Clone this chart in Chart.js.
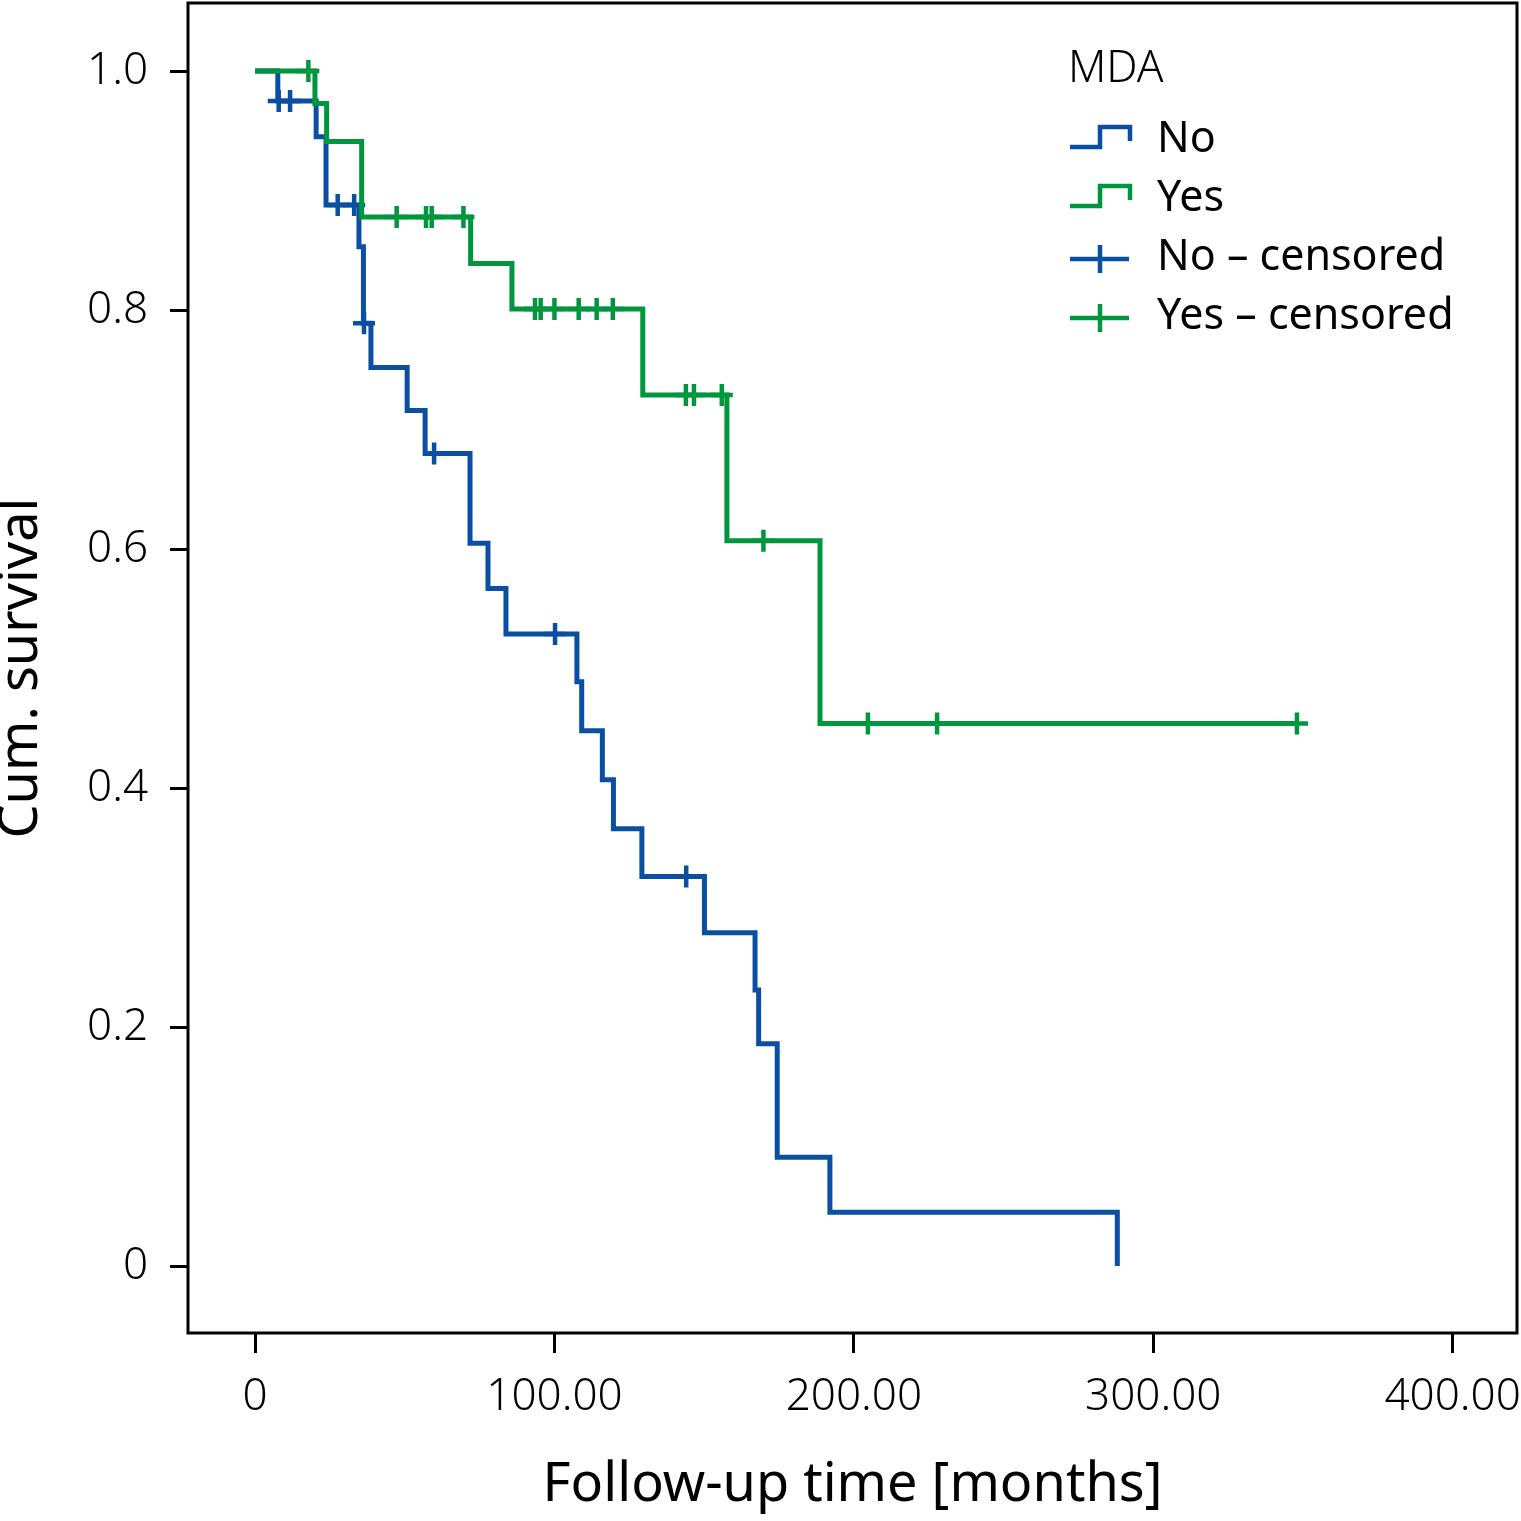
<!DOCTYPE html>
<html>
<head>
<meta charset="utf-8">
<title>Cum. survival by MDA</title>
<script src="https://cdn.jsdelivr.net/npm/chart.js@4.4.1/dist/chart.umd.min.js"></script>
<style>
  html, body { margin: 0; padding: 0; background: #fff; }
  #wrap { width: 1521px; height: 1521px; position: relative; }
</style>
</head>
<body>
<div id="wrap"><canvas id="km"></canvas></div>
<script>
// MDA = No : event times (months) and survival after each step
var noTimes = [0, 7.6, 20.4, 23.7, 34.7, 36.2, 38.7, 50.8, 56.8, 71.8, 77.8, 83.8, 107.5, 109.1, 116.0, 119.7, 129.2, 150.1, 167.0, 168.2, 174.4, 192.0, 288.0];
var noSurv  = [1.0, 0.975, 0.945, 0.888, 0.853, 0.789, 0.752, 0.716, 0.680, 0.605, 0.567, 0.529, 0.489, 0.448, 0.407, 0.366, 0.326, 0.279, 0.231, 0.186, 0.091, 0.045, 0];
var noCensored = [7.9, 11.7, 27.6, 33.1, 36.4, 59.8, 100.2, 144.0];

// MDA = Yes
var yesTimes = [0, 20.0, 23.9, 35.6, 72.0, 85.8, 129.5, 157.6, 188.7, 348.0];
var yesSurv  = [1.0, 0.973, 0.941, 0.878, 0.839, 0.801, 0.729, 0.607, 0.454, 0.454];
var yesCensored = [17.8, 47.3, 57.1, 59.0, 69.6, 93.5, 95.4, 100.0, 108.1, 114.1, 119.5, 143.9, 146.6, 155.9, 169.8, 204.7, 227.8, 348.0];

var xTicks = [0, 100, 200, 300, 400];
var yTicks = [0, 0.2, 0.4, 0.6, 0.8, 1.0];

var legendTitle = 'MDA';
var legendLabels = ['No', 'Yes', 'No \u2013 censored', 'Yes \u2013 censored'];

var BLUE = '#0a4fa2';
var GREEN = '#00963e';

// survival value of a step curve at time t (for placing the censor marks on the line)
function survAt(times, surv, t) {
    var s = surv[0];
    for (var i = 0; i < times.length; i++) {
        if (times[i] <= t) s = surv[i];
    }
    return s;
}
function steps(times, surv) {
    return times.map(function (t, i) { return { x: t, y: surv[i] }; });
}
function marks(cens, times, surv) {
    return cens.map(function (t) { return { x: t, y: survAt(times, surv, t) }; });
}

Chart.defaults.font.family = "'Noto Sans', sans-serif";
Chart.defaults.color = '#000';

// black frame round the plot area
var framePlugin = {
    id: 'frame',
    afterDatasetsDraw: function (chart) {
        var a = chart.chartArea, ctx = chart.ctx;
        ctx.save();
        ctx.strokeStyle = '#000';
        ctx.lineWidth = 3;
        ctx.strokeRect(a.left, a.top, a.right - a.left, a.bottom - a.top);
        ctx.restore();
    }
};

// legend inside the plot, with step and cross icons
var kmLegend = {
    id: 'kmLegend',
    afterDraw: function (chart) {
        var ctx = chart.ctx;
        var ds = chart.data.datasets;
        var x0 = 1070, tx = 1157;
        ctx.save();
        ctx.fillStyle = '#000';
        ctx.textBaseline = 'alphabetic';
        ctx.textAlign = 'left';
        ctx.font = "300 44px 'Noto Sans', sans-serif";
        ctx.fillText(legendTitle, x0 - 2, 82);
        ctx.lineWidth = 4.5;
        ctx.lineCap = 'butt';
        ctx.lineJoin = 'miter';
        for (var i = 0; i < legendLabels.length; i++) {
            var base = 152 + i * 59;
            ctx.strokeStyle = ds[i].borderColor;
            ctx.beginPath();
            if (i < 2) {
                ctx.moveTo(x0, base - 5);
                ctx.lineTo(x0 + 30, base - 5);
                ctx.lineTo(x0 + 30, base - 25);
                ctx.lineTo(x0 + 60, base - 25);
                ctx.lineTo(x0 + 60, base - 11);
            } else {
                ctx.moveTo(x0, base - 11);
                ctx.lineTo(x0 + 59, base - 11);
                ctx.moveTo(x0 + 30, base - 25);
                ctx.lineTo(x0 + 30, base + 3);
            }
            ctx.stroke();
            ctx.font = "400 43px 'Noto Sans', sans-serif";
            ctx.fillText(legendLabels[i], tx, base);
        }
        ctx.restore();
    }
};

var ctx = document.getElementById('km').getContext('2d');
var km = new Chart(ctx, {
    type: 'line',
    data: {
        datasets: [{
            label: legendLabels[0],
            data: steps(noTimes, noSurv),
            borderColor: BLUE,
            borderWidth: 5,
            stepped: 'before',
            pointRadius: 0,
            fill: false,
            order: 3
        }, {
            label: legendLabels[1],
            data: steps(yesTimes, yesSurv),
            borderColor: GREEN,
            borderWidth: 5,
            stepped: 'before',
            pointRadius: 0,
            fill: false,
            order: 1
        }, {
            type: 'scatter',
            label: legendLabels[2],
            data: marks(noCensored, noTimes, noSurv),
            borderColor: BLUE,
            backgroundColor: BLUE,
            pointStyle: 'cross',
            pointRadius: 11,
            pointBorderWidth: 4.5,
            showLine: false,
            order: 2
        }, {
            type: 'scatter',
            label: legendLabels[3],
            data: marks(yesCensored, yesTimes, yesSurv),
            borderColor: GREEN,
            backgroundColor: GREEN,
            pointStyle: 'cross',
            pointRadius: 11,
            pointBorderWidth: 4.5,
            showLine: false,
            order: 0
        }]
    },
    options: {
        responsive: true,
        maintainAspectRatio: false,
        devicePixelRatio: 1,
        animation: false,
        layout: { autoPadding: false, padding: { top: 3, right: 4, left: 0, bottom: 0 } },
        plugins: {
            legend: { display: false },
            tooltip: { enabled: false }
        },
        scales: {
            x: {
                type: 'linear',
                min: -22.4,
                max: 421.5,
                afterFit: function (s) {
                    s.height = 188;
                    s.paddingLeft = 0; s.paddingRight = 0;
                },
                afterBuildTicks: function (s) { s.ticks = xTicks.map(function (v) { return { value: v }; }); },
                border: { display: false },
                grid: { drawOnChartArea: false, drawTicks: true, tickLength: 20, tickWidth: 3, tickColor: '#000', lineWidth: 3 },
                ticks: {
                    padding: 18,
                    font: { size: 44, weight: '300' },
                    maxRotation: 0,
                    callback: function (v) { return v === 0 ? '0' : v.toFixed(2); }
                },
                title: {
                    display: true,
                    text: 'Follow-up time [months]',
                    font: { size: 54, weight: '400', lineHeight: 1 },
                    padding: { top: 0, bottom: 8 }
                }
            },
            y: {
                type: 'linear',
                min: -0.056,
                max: 1.057,
                afterFit: function (s) {
                    s.width = 188;
                    s.paddingTop = 0; s.paddingBottom = 0;
                },
                afterBuildTicks: function (s) { s.ticks = yTicks.map(function (v) { return { value: v }; }); },
                border: { display: false },
                grid: { drawOnChartArea: false, drawTicks: true, tickLength: 18, tickWidth: 3, tickColor: '#000', lineWidth: 3 },
                ticks: {
                    padding: 22,
                    font: { size: 44, weight: '300' },
                    callback: function (v) { return v === 0 ? '0' : v.toFixed(1); }
                },
                title: {
                    display: true,
                    text: 'Cum. survival',
                    font: { size: 54, weight: '400', lineHeight: 0.8 },
                    padding: { top: 0, bottom: 0 }
                }
            }
        }
    },
    plugins: [framePlugin, kmLegend]
});
</script>
</body>
</html>
